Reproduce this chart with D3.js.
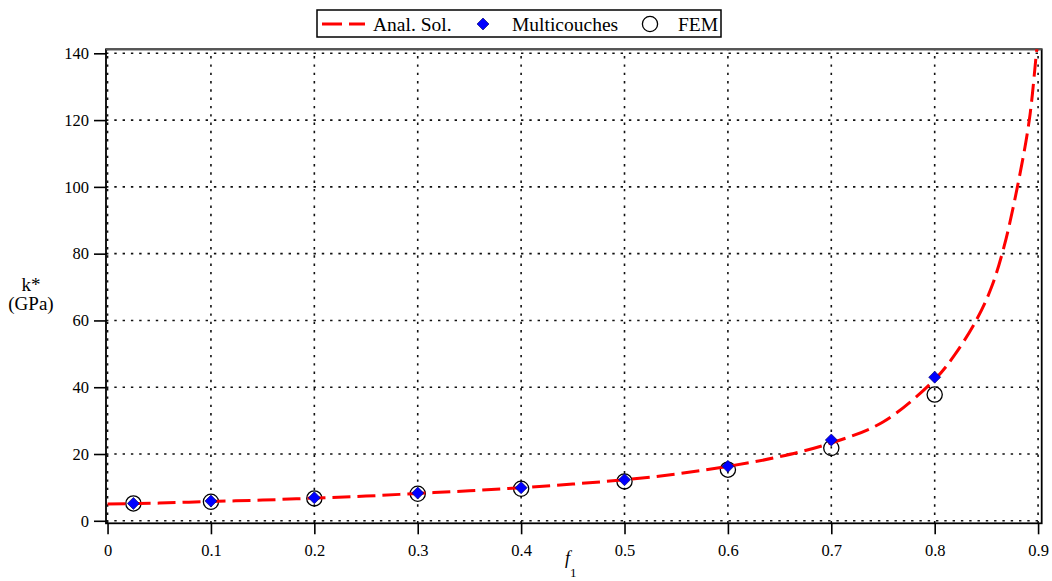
<!DOCTYPE html>
<html>
<head>
<meta charset="utf-8">
<script src="https://cdn.jsdelivr.net/npm/d3@7"></script>
<style>
  body { margin: 0; background: #fff; }
  svg { display: block; font-family: "Liberation Serif", "Times New Roman", serif; }
</style>
</head>
<body>
<div id="chart"></div>
<script>
// analytical solution
const fAnal = [0, 0.05, 0.1, 0.15, 0.2, 0.25, 0.3, 0.35, 0.4, 0.45, 0.5, 0.55, 0.6, 0.65, 0.7, 0.75, 0.8, 0.82, 0.841, 0.855, 0.867, 0.88, 0.8915, 0.8987, 0.902];
const kAnal = [5.0, 5.3, 5.8, 6.2, 6.8, 7.4, 8.2, 9.0, 9.9, 11.0, 12.3, 14.0, 16.3, 19.2, 23.3, 29.6, 42.3, 50, 60.5, 70, 82, 100, 120, 141, 150];

// sampled points
const fPoints = [0.025, 0.1, 0.2, 0.3, 0.4, 0.5, 0.6, 0.7, 0.8];
const kMulti = [5.2, 5.9, 6.9, 8.3, 9.9, 12.3, 16.3, 24.2, 43.0];
const kFEM = [5.2, 5.7, 6.7, 8.1, 9.6, 11.8, 15.3, 21.8, 37.8];

const xTicks = [0, 0.1, 0.2, 0.3, 0.4, 0.5, 0.6, 0.7, 0.8, 0.9];
const xTickLabels = ["0", "0.1", "0.2", "0.3", "0.4", "0.5", "0.6", "0.7", "0.8", "0.9"];
const yTicks = [0, 20, 40, 60, 80, 100, 120, 140];

const legendLabels = ["Anal. Sol.", "Multicouches", "FEM"];

const width = 1052, height = 581;

const x = d3.scaleLinear()
    .domain([-0.0015, 0.9035])
    .range([106, 1041.7]);

const y = d3.scaleLinear()
    .domain([-0.75, 141.2])
    .range([523.3, 49.3]);

const svg = d3.select("#chart").append("svg")
    .attr("width", width)
    .attr("height", height);

svg.append("clipPath").attr("id", "clip")
    .append("rect")
    .attr("x", x.range()[0]).attr("y", y.range()[1])
    .attr("width", x.range()[1] - x.range()[0])
    .attr("height", y.range()[0] - y.range()[1]);

// grid
const grid = svg.append("g").attr("stroke", "#111").attr("stroke-width", 1.6)
    .attr("stroke-dasharray", "2.4,5.9");

grid.selectAll(".vgrid").data(xTicks).enter().append("line")
    .attr("x1", d => x(d)).attr("x2", d => x(d))
    .attr("y1", y.range()[0]).attr("y2", y.range()[1]);

grid.selectAll(".hgrid").data(yTicks).enter().append("line")
    .attr("x1", x.range()[0]).attr("x2", x.range()[1])
    .attr("y1", d => y(d)).attr("y2", d => y(d));

// axes
const xAxis = svg.append("g")
    .attr("transform", `translate(0,${y.range()[0]})`)
    .call(d3.axisBottom(x).tickValues(xTicks).tickFormat((d, i) => xTickLabels[i]).tickSize(11).tickPadding(10));

const yAxis = svg.append("g")
    .attr("transform", `translate(${x.range()[0]},0)`)
    .call(d3.axisLeft(y).tickValues(yTicks).tickSize(12).tickPadding(5));

[xAxis, yAxis].forEach(a => {
    a.select(".domain").remove();
    a.selectAll(".tick line").attr("stroke", "#000").attr("stroke-width", 1.6);
    a.selectAll("text").attr("fill", "#000")
        .style("font-family", "'Liberation Serif', serif")
        .style("font-size", "16.5px");
});

// frame
svg.append("rect")
    .attr("x", x.range()[0]).attr("y", y.range()[1])
    .attr("width", x.range()[1] - x.range()[0])
    .attr("height", y.range()[0] - y.range()[1])
    .attr("fill", "none").attr("stroke", "#000").attr("stroke-width", 1.8);

svg.append("line")
    .attr("x1", x.range()[0]).attr("x2", x.range()[1])
    .attr("y1", y.range()[1]).attr("y2", y.range()[1])
    .attr("stroke", "#555").attr("stroke-width", 2);

// FEM circles
svg.append("g").selectAll("circle")
    .data(fPoints).enter().append("circle")
    .attr("cx", d => x(d))
    .attr("cy", (d, i) => y(kFEM[i]))
    .attr("r", 7.6)
    .attr("fill", "none")
    .attr("stroke", "#000")
    .attr("stroke-width", 1.3);

// analytical curve
const line = d3.line()
    .x((d, i) => x(fAnal[i]))
    .y(d => y(d))
    .curve(d3.curveCatmullRom.alpha(0.5));

svg.append("path")
    .datum(kAnal)
    .attr("clip-path", "url(#clip)")
    .attr("d", line)
    .attr("fill", "none")
    .attr("stroke", "#ff0000")
    .attr("stroke-width", 3)
    .attr("stroke-dasharray", "18,7");

// Multicouches diamonds
const diamond = d3.symbol().type(d3.symbolSquare).size(72);

svg.append("g").selectAll("path")
    .data(fPoints).enter().append("path")
    .attr("d", diamond)
    .attr("transform", (d, i) => `translate(${x(d)},${y(kMulti[i])}) rotate(45)`)
    .attr("fill", "#0000ff")
    .attr("stroke", "#000060")
    .attr("stroke-width", 0.6);

// y label
const ylab = svg.append("text")
    .attr("text-anchor", "middle")
    .style("font-size", "19px")
    .attr("fill", "#000");
ylab.append("tspan").attr("x", 31).attr("y", 291).text("k*");
ylab.append("tspan").attr("x", 31).attr("y", 310).text("(GPa)");

// x label
const xlab = svg.append("text").attr("fill", "#000");
xlab.append("tspan").attr("x", 565).attr("y", 564)
    .style("font-style", "italic").style("font-size", "18px").text("f");
xlab.append("tspan").attr("x", 570).attr("y", 576.5)
    .style("font-size", "13px").text("1");

// legend
const legend = svg.append("g");
legend.append("rect")
    .attr("x", 317).attr("y", 10)
    .attr("width", 404).attr("height", 27)
    .attr("fill", "#fff").attr("stroke", "#000").attr("stroke-width", 1.5);

legend.append("line")
    .attr("x1", 322).attr("x2", 365)
    .attr("y1", 24).attr("y2", 24)
    .attr("stroke", "#ff0000").attr("stroke-width", 3)
    .attr("stroke-dasharray", "20,7");

legend.append("path")
    .attr("d", diamond)
    .attr("transform", "translate(483,24) rotate(45)")
    .attr("fill", "#0000ff").attr("stroke", "#000060").attr("stroke-width", 0.6);

legend.append("circle")
    .attr("cx", 650).attr("cy", 24).attr("r", 7.6)
    .attr("fill", "none").attr("stroke", "#000").attr("stroke-width", 1.3);

legend.selectAll(".ltext")
    .data(legendLabels).enter().append("text")
    .attr("x", (d, i) => [373, 512, 678][i])
    .attr("y", 31)
    .style("font-size", "19.5px")
    .attr("fill", "#000")
    .text(d => d);
</script>
</body>
</html>
